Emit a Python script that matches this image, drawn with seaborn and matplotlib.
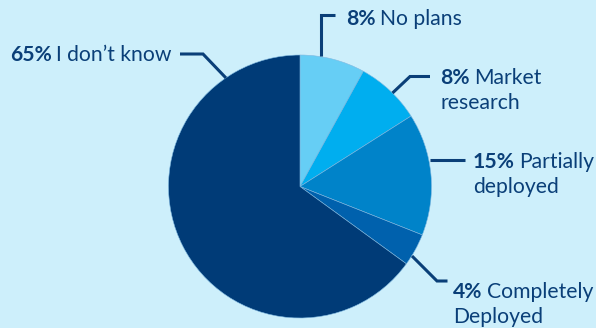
import matplotlib
matplotlib.use("Agg")
import matplotlib.pyplot as plt
import seaborn as sns

categories = ["No plans", "Market research", "Partially deployed", "Completely Deployed", "I don't know"]
values = [8, 8, 15, 4, 65]
pct_labels = ["8%", "8%", "15%", "4%", "65%"]
label_lines = [["No plans"], ["Market", "research"], ["Partially", "deployed"],
               ["Completely", "Deployed"], ["I don\u2019t know"]]

colors = ["#66cef5", "#00aeef", "#0083c9", "#0061ad", "#003b77"]
bg = "#cdeffb"
txt = "#0a3f78"

sns.set_theme(style="white")
plt.rcParams["font.family"] = ["Lato", "DejaVu Sans"]

W, H = 596, 328
fig = plt.figure(figsize=(W / 100, H / 100), dpi=100, facecolor=bg)
ax = fig.add_axes([0, 0, 1, 1])
ax.set_facecolor(bg)
ax.set_xlim(0, W)
ax.set_ylim(0, H)
ax.set_aspect("equal")
ax.axis("off")

def Y(y):
    return H - y

ax.pie(values, colors=colors, startangle=90, counterclock=False,
       center=(300, Y(186.5)), radius=131.5,
       wedgeprops=dict(edgecolor="#7fb8e0", linewidth=0.4), frame=False)
ax.set_xlim(0, W)
ax.set_ylim(0, H)

# leader lines (pixel layout)
leaders = [
    [(320.5, 56), (320.5, 15), (335, 15)],
    [(392.5, 93), (410, 76.5), (430, 76.5)],
    [(430, 159.5), (465, 159.5)],
    [(412, 256), (437, 281), (447.5, 281)],
    [(226, 78), (203, 54), (180, 54)],
]
for pts in leaders:
    xs = [p[0] for p in pts]
    ys = [Y(p[1]) for p in pts]
    ax.plot(xs, ys, color=txt, lw=2.2, solid_capstyle="butt", solid_joinstyle="miter")

# label anchor (left x, first-line center y)
anchors = [(346, 17), (440, 76), (473, 160), (453, 290), (10, 53)]
fs = 15.2
line_h = 25
fig.canvas.draw()
renderer = fig.canvas.get_renderer()
inv = ax.transData.inverted()
for (x, y), pct, lines in zip(anchors, pct_labels, label_lines):
    t = ax.text(x, Y(y), pct, fontsize=fs, fontweight="bold", color=txt,
                va="center_baseline", ha="left")
    bb = t.get_window_extent(renderer=renderer)
    x1 = inv.transform((bb.x1, bb.y0))[0]
    ax.text(x1 + 4.5, Y(y), lines[0], fontsize=fs, color=txt,
            va="center_baseline", ha="left")
    for i, ln in enumerate(lines[1:], start=1):
        ax.text(x, Y(y + i * line_h), ln, fontsize=fs, color=txt,
                va="center_baseline", ha="left")

fig.savefig("out.png", dpi=100, facecolor=bg)
